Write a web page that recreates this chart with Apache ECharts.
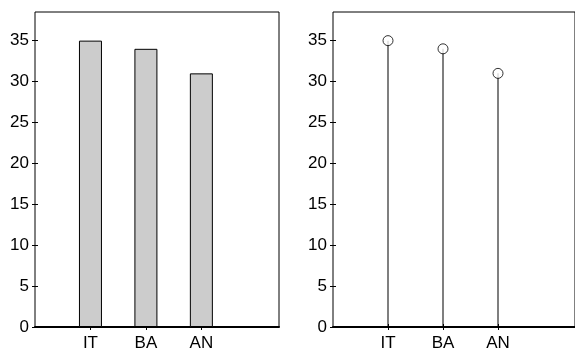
<!DOCTYPE html>
<html>
<head>
<meta charset="utf-8">
<script src="https://cdn.jsdelivr.net/npm/echarts@6/dist/echarts.min.js"></script>
<style>
html,body{margin:0;padding:0;background:#fff;}
#c{width:575px;height:353px;}
</style>
</head>
<body>
<div id="c"></div>
<script>
const categories = ['IT', 'BA', 'AN'];
const catPositions = [1, 2, 3];
const values = [35, 34, 31];
const yTicks = [0, 5, 10, 15, 20, 25, 30, 35];
const xMin = 0, xMax = 4.4;
const yMin = 0, yMax = 38.5;

const font = '"Liberation Sans", Arial, Helvetica, sans-serif';
const pts = values.map((v, i) => [catPositions[i], v]);
const labelFor = v => {
  const i = catPositions.indexOf(Math.round(v));
  return (i >= 0 && Math.abs(v - catPositions[i]) < 1e-6) ? categories[i] : '';
};

const chart = echarts.init(document.getElementById('c'), null, {renderer: 'canvas'});

function xAxes(gi) {
  return [
    {
      gridIndex: gi, type: 'value', min: xMin, max: xMax, position: 'bottom',
      splitLine: {show: false},
      axisLine: {show: true, onZero: false, lineStyle: {color: '#000', width: 2}},
      axisTick: {show: true, inside: true, length: 3, customValues: catPositions, lineStyle: {color: '#000'}},
      axisLabel: {show: true, customValues: catPositions, formatter: labelFor, color: '#000', fontSize: 17, fontFamily: font, margin: 8}
    },
    {
      gridIndex: gi, type: 'value', min: xMin, max: xMax, position: 'top',
      splitLine: {show: false},
      axisLine: {show: false},
      axisTick: {show: true, inside: true, length: 3, customValues: catPositions, lineStyle: {color: '#000'}},
      axisLabel: {show: false}
    }
  ];
}
function yAxes(gi) {
  return [
    {
      gridIndex: gi, type: 'value', min: yMin, max: yMax, position: 'left',
      splitLine: {show: false},
      axisLine: {show: false},
      axisTick: {show: true, inside: true, length: 3, customValues: yTicks, lineStyle: {color: '#000'}},
      axisLabel: {show: true, customValues: yTicks, color: '#000', fontSize: 17, fontFamily: font, margin: 6}
    },
    {
      gridIndex: gi, type: 'value', min: yMin, max: yMax, position: 'right',
      splitLine: {show: false},
      axisLine: {show: false},
      axisTick: {show: true, inside: true, length: 3, customValues: yTicks, lineStyle: {color: '#000'}},
      axisLabel: {show: false}
    }
  ];
}

chart.setOption({
  animation: false,
  backgroundColor: '#fff',
  grid: [
    {left: 35, top: 12, width: 244, height: 315, show: true, borderColor: '#000', borderWidth: 1, backgroundColor: '#fff'},
    {left: 333, top: 12, width: 244, height: 315, show: true, borderColor: '#000', borderWidth: 1, backgroundColor: '#fff'}
  ],
  xAxis: [...xAxes(0), ...xAxes(1)],
  yAxis: [...yAxes(0), ...yAxes(1)],
  series: [
    {
      type: 'bar', xAxisIndex: 0, yAxisIndex: 0, data: pts, barWidth: 23,
      itemStyle: {color: '#cccccc', borderColor: '#000', borderWidth: 1}
    },
    {
      type: 'bar', xAxisIndex: 2, yAxisIndex: 2, data: pts, barWidth: 1,
      itemStyle: {color: '#000'}, z: 2
    },
    {
      type: 'scatter', xAxisIndex: 2, yAxisIndex: 2, data: pts, symbol: 'circle', symbolSize: 10,
      itemStyle: {color: '#fff', borderColor: '#000', borderWidth: 1}, z: 3
    }
  ]
});
</script>
</body>
</html>
